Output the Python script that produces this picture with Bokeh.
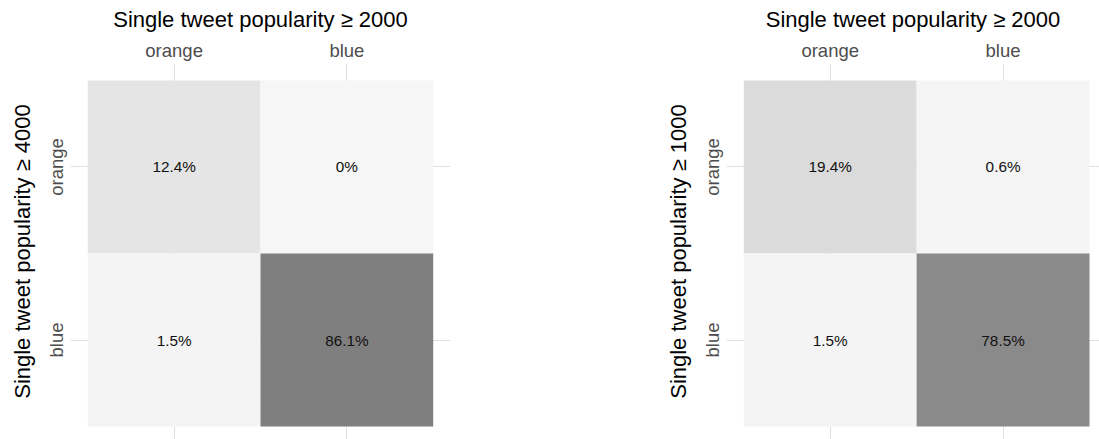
from bokeh.plotting import figure
from bokeh.layouts import row
from bokeh.models import Range1d, FixedTicker, ColumnDataSource, LinearColorMapper
from bokeh.transform import transform
from bokeh.embed import file_html
from bokeh.resources import INLINE
from bokeh.core.properties import value

# ---- data ----
categories = ["orange", "blue"]          # order on x (left->right) and y (top->bottom)
x_title = "Single tweet popularity \u2265 2000"
left_y_title = "Single tweet popularity \u2265 4000"
right_y_title = "Single tweet popularity \u2265 1000"
# row-major: rows = y category, cols = x category
left_values = [12.4, 0.0, 1.5, 86.1]
right_values = [19.4, 0.6, 1.5, 78.5]

FONT = "Liberation Sans"

# gray gradient (style)
palette = []
for i in range(256):
    g = int(round(246 - (246 - 108) * i / 255))
    palette.append("#%02x%02x%02x" % (g, g, g))
mapper = LinearColorMapper(palette=palette, low=0, high=100)


def make_panel(values, y_title, width, border_left, border_right, x_end):
    n = len(categories)
    xs, ys, vs, labels = [], [], [], []
    k = 0
    for yi, yc in enumerate(categories):
        for xi, xc in enumerate(categories):
            xs.append(xi + 1)
            ys.append(n - yi)
            vs.append(values[k])
            labels.append(f"{values[k]:g}%")
            k += 1
    src = ColumnDataSource(dict(x=xs, y=ys, v=vs, label=labels))

    p = figure(width=width, height=439, output_backend="svg", toolbar_location=None,
               x_range=Range1d(0.4, x_end), y_range=Range1d(0.425, 2.598),
               x_axis_location="above", min_border=0, min_border_left=border_left,
               min_border_right=border_right, min_border_top=63, min_border_bottom=0)
    p.outline_line_color = None
    p.background_fill_color = "white"
    p.border_fill_color = "white"

    p.rect(x="x", y="y", width=1, height=1, source=src,
           fill_color=transform("v", mapper), line_color=None)
    p.text(x="x", y="y", text="label", source=src, text_align="center",
           text_baseline="middle", text_font_size="15.3px", text_color="#111111",
           text_font=value(FONT))

    xticks = list(range(1, n + 1))
    p.xaxis.ticker = FixedTicker(ticks=xticks)
    p.xaxis.major_label_overrides = {i + 1: c for i, c in enumerate(categories)}
    p.yaxis.ticker = FixedTicker(ticks=xticks)
    p.yaxis.major_label_overrides = {n - i: c for i, c in enumerate(categories)}
    p.xgrid.ticker = FixedTicker(ticks=xticks)
    p.ygrid.ticker = FixedTicker(ticks=xticks)
    p.grid.grid_line_color = "#e0e0e0"
    p.grid.grid_line_width = 1

    for ax in (p.xaxis, p.yaxis):
        ax.axis_line_color = None
        ax.major_tick_line_color = None
        ax.minor_tick_line_color = None
        ax.major_tick_out = 0
        ax.major_tick_in = 0
        ax.minor_tick_out = 0
        ax.minor_tick_in = 0
        ax.major_label_text_font = FONT
        ax.major_label_text_font_size = "18.5px"
        ax.major_label_text_color = "#4d4d4d"
        ax.axis_label_text_font = FONT
        ax.axis_label_text_font_size = "22px"
        ax.axis_label_text_font_style = "normal"
        ax.axis_label_text_color = "#000000"

    p.xaxis.axis_label = x_title
    p.xaxis.major_label_standoff = 3
    p.xaxis.axis_label_standoff = 5
    p.yaxis.axis_label = y_title
    p.yaxis.major_label_orientation = "vertical"
    p.yaxis.major_label_standoff = 3
    p.yaxis.axis_label_standoff = 9
    return p


left = make_panel(left_values, left_y_title, 470, 70, 20, 2.6)
right = make_panel(right_values, right_y_title, 629, 256, 0, 2.558)

layout = row(left, right)
open("out.html", "w").write(file_html(layout, INLINE))
